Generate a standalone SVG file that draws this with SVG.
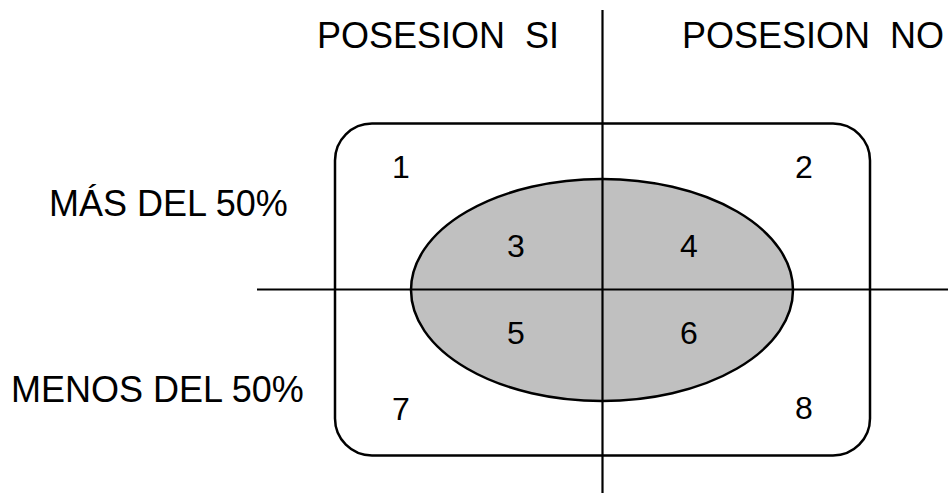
<svg xmlns="http://www.w3.org/2000/svg" width="952" height="493" viewBox="0 0 952 493">
  <style>
    .axis { stroke: #000; stroke-width: 2.2; fill: none; }
    .frame { stroke: #000; stroke-width: 2.5; fill: #fff; }
    .core { stroke: #000; stroke-width: 2.5; fill: #c0c0c0; }
    .label { font-family: "Liberation Sans", Arial, sans-serif; font-size: 36px; fill: #000; }
    .num { font-family: "Liberation Sans", Arial, sans-serif; font-size: 32px; fill: #000; text-anchor: middle; }
  </style>

  <!-- outer rounded frame -->
  <g id="frame">
    <rect class="frame" x="335" y="123.5" width="535" height="332" rx="37" ry="37"/>
  </g>

  <!-- central shaded ellipse -->
  <g id="core">
    <ellipse class="core" cx="602" cy="290" rx="191" ry="111"/>
  </g>

  <!-- axes -->
  <g id="axes">
    <line class="axis" x1="602.5" y1="10" x2="602.5" y2="493"/>
    <line class="axis" x1="257" y1="289.5" x2="948" y2="289.5"/>
  </g>

  <!-- column headings -->
  <g id="col-si">
    <text class="label" x="317" y="48" xml:space="preserve">POSESION  SI</text>
  </g>
  <g id="col-no">
    <text class="label" x="682" y="48" xml:space="preserve">POSESION  NO</text>
  </g>

  <!-- row headings -->
  <g id="row-mas">
    <text class="label" x="49" y="216">MÁS DEL 50%</text>
  </g>
  <g id="row-menos">
    <text class="label" x="11" y="402">MENOS DEL 50%</text>
  </g>

  <!-- region numbers -->
  <g id="regions">
    <text class="num" x="401" y="178">1</text>
    <text class="num" x="804" y="178">2</text>
    <text class="num" x="516" y="257">3</text>
    <text class="num" x="689" y="257">4</text>
    <text class="num" x="516" y="344">5</text>
    <text class="num" x="689" y="344">6</text>
    <text class="num" x="401" y="420">7</text>
    <text class="num" x="804" y="419">8</text>
  </g>
</svg>
